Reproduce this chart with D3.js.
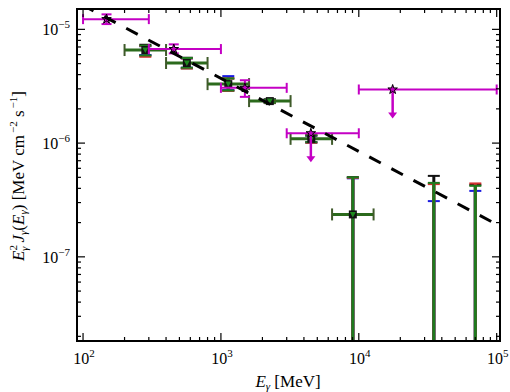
<!DOCTYPE html>
<html>
<head>
<meta charset="utf-8">
<script src="https://cdn.jsdelivr.net/npm/d3@7"></script>
<style>
  body { margin: 0; background: #fff; }
  text { font-family: "Liberation Serif", "DejaVu Serif", serif; }
</style>
</head>
<body>
<div id="chart"></div>
<script>
/* LAT points (magenta stars), energy bins and fluxes */
const latE   = [148, 455, 1492, 4490, 17600];
const latElo = [100, 300, 1000, 3000, 10000];
const latEhi = [300, 1000, 3000, 10000, 100000];
const latF   = [1.23e-5, 6.71e-6, 3.06e-6, 1.22e-6, 2.96e-6];
const latFhi = [1.355e-5, 7.38e-6, 3.57e-6, null, null];
const latFlo = [1.113e-5, 6.15e-6, 2.55e-6, null, null];
const latUL  = [false, false, false, true, true];

/* binned points (squares / triangles), shared energy bins */
const binE   = [283, 566, 1131, 2263, 4525, 9051, 35000, 70000];
const binElo = [200, 400, 800, 1600, 3200, 6400, 25600, 51200];
const binEhi = [400, 800, 1600, 3200, 6400, 12800, 51200, 102400];
const binF   = [6.58e-6, 5.06e-6, 3.30e-6, 2.34e-6, 1.09e-6, 2.36e-7, 1e-9, 1e-9];

/* upper / lower ends of the error bars for each overlapping series */
const blackHi = [7.32e-6, 5.63e-6, 3.70e-6, 2.43e-6, 1.17e-6, 5.02e-7, 5.15e-7, 4.30e-7];
const blackLo = [5.90e-6, 4.54e-6, 2.90e-6, 2.25e-6, 1.01e-6, 0, 0, 0];
const blueHi  = [7.10e-6, 5.55e-6, 3.88e-6, 2.44e-6, 1.16e-6, 4.90e-7, 3.09e-7, 3.80e-7];
const blueLo  = [5.95e-6, 4.60e-6, 2.92e-6, 2.25e-6, 1.02e-6, 0, 0, 0];
const redHi   = [7.15e-6, 5.55e-6, 3.70e-6, 2.42e-6, 1.17e-6, 4.95e-7, 4.36e-7, 4.42e-7];
const redLo   = [5.74e-6, 4.54e-6, 2.88e-6, 2.25e-6, 1.01e-6, 0, 0, 0];
const greenHi = [7.20e-6, 5.60e-6, 3.70e-6, 2.42e-6, 1.17e-6, 5.00e-7, 4.47e-7, 4.21e-7];
const greenLo = [5.90e-6, 4.60e-6, 2.90e-6, 2.26e-6, 1.02e-6, 0, 0, 0];

/* power-law model (dashed) */
const modelE = [90, 106000];
const modelF = [1.738e-5, 1.858e-7];

const xTicks = [1e2, 1e3, 1e4, 1e5];
const xTickExp = ["2", "3", "4", "5"];
const yTicks = [1e-5, 1e-6, 1e-7];
const yTickExp = ["\u22125", "\u22126", "\u22127"];

var W = 510, H = 392;
var pL = 77, pR = 500, pT = 9, pB = 341;

var svg = d3.select("#chart").append("svg")
    .attr("width", W).attr("height", H);

var x = d3.scaleLog().domain([90.4, 105700]).range([pL, pR]);
var y = d3.scaleLog().domain([1.82e-8, 1.51e-5]).range([pB, pT]);

svg.append("clipPath").attr("id", "clip")
    .append("rect").attr("x", pL).attr("y", pT)
    .attr("width", pR - pL).attr("height", pB - pT);

var plot = svg.append("g").attr("clip-path", "url(#clip)");

/* safe y for zero lower bounds */
function yv(v) { return v > 0 ? y(v) : pB + 20; }

/* horizontal bars for the binned series */
function hbars(color, capColor) {
    binE.forEach(function(e, i) {
        plot.append("line")
            .attr("x1", x(binElo[i])).attr("x2", x(binEhi[i]))
            .attr("y1", y(binF[i])).attr("y2", y(binF[i]))
            .attr("stroke", color).attr("stroke-width", 3);
        [binElo[i], binEhi[i]].forEach(function(b) {
            plot.append("line")
                .attr("x1", x(b)).attr("x2", x(b))
                .attr("y1", y(binF[i]) - 6).attr("y2", y(binF[i]) + 6)
                .attr("stroke", capColor).attr("stroke-width", 2);
        });
    });
}

function vbars(hi, lo, color, width) {
    binE.forEach(function(e, i) {
        var cx = x(e);
        plot.append("line")
            .attr("x1", cx).attr("x2", cx)
            .attr("y1", yv(hi[i])).attr("y2", yv(lo[i]))
            .attr("stroke", color).attr("stroke-width", width);
        [hi[i], lo[i]].forEach(function(v) {
            if (v > 0) {
                plot.append("line")
                    .attr("x1", cx - 6).attr("x2", cx + 6)
                    .attr("y1", y(v)).attr("y2", y(v))
                    .attr("stroke", color).attr("stroke-width", 2);
            }
        });
    });
}

hbars("#2b6a1c", "#3f5a2a");
vbars(blackHi, blackLo, "#111", 3);
vbars(blueHi, blueLo, "#1a1ae0", 3);
vbars(redHi, redLo, "#d03030", 3);
vbars(greenHi, greenLo, "#1e7a1e", 3);

/* markers: black squares with green down triangles */
binE.forEach(function(e, i) {
    var cx = x(e), cy = y(binF[i]);
    plot.append("rect")
        .attr("x", cx - 4).attr("y", cy - 4)
        .attr("width", 8).attr("height", 8)
        .attr("fill", "#111");
    plot.append("path")
        .attr("d", "M" + (cx - 3) + "," + (cy - 2.5) + "L" + (cx + 3) + "," + (cy - 2.5) + "L" + cx + "," + (cy + 3) + "Z")
        .attr("fill", "#1e8a1e");
});

/* LAT magenta points */
var mag = "#c400c4";
latE.forEach(function(e, i) {
    var cx = x(e), cy = y(latF[i]);
    plot.append("line")
        .attr("x1", x(latElo[i])).attr("x2", x(latEhi[i]))
        .attr("y1", cy).attr("y2", cy)
        .attr("stroke", mag).attr("stroke-width", 2);
    [latElo[i], latEhi[i]].forEach(function(b) {
        plot.append("line")
            .attr("x1", x(b)).attr("x2", x(b))
            .attr("y1", cy - 5).attr("y2", cy + 5)
            .attr("stroke", mag).attr("stroke-width", 2);
    });
    if (latUL[i]) {
        plot.append("line")
            .attr("x1", cx).attr("x2", cx)
            .attr("y1", cy).attr("y2", cy + 24)
            .attr("stroke", mag).attr("stroke-width", 2.5);
        plot.append("path")
            .attr("d", "M" + (cx - 4.5) + "," + (cy + 23) + "L" + (cx + 4.5) + "," + (cy + 23) + "L" + cx + "," + (cy + 29) + "Z")
            .attr("fill", mag);
    } else {
        plot.append("line")
            .attr("x1", cx).attr("x2", cx)
            .attr("y1", y(latFhi[i])).attr("y2", y(latFlo[i]))
            .attr("stroke", mag).attr("stroke-width", 2);
        [latFhi[i], latFlo[i]].forEach(function(v) {
            plot.append("line")
                .attr("x1", cx - 5).attr("x2", cx + 5)
                .attr("y1", y(v)).attr("y2", y(v))
                .attr("stroke", mag).attr("stroke-width", 2);
        });
    }
    plot.append("path")
        .attr("d", d3.symbol().type(d3.symbolStar).size(28)())
        .attr("transform", "translate(" + cx + "," + cy + ")")
        .attr("fill", mag).attr("stroke", "#000").attr("stroke-width", 1);
});

/* dashed model line */
plot.append("path")
    .datum(modelE.map(function(e, i) { return [e, modelF[i]]; }))
    .attr("d", d3.line().x(function(d) { return x(d[0]); }).y(function(d) { return y(d[1]); }))
    .attr("fill", "none").attr("stroke", "#000")
    .attr("stroke-width", 3).attr("stroke-dasharray", "13,12")
    .attr("stroke-dashoffset", 19);

/* ticks (inward, all four sides) */
var ax = svg.append("g");
function minors(lo, hi) {
    var out = [];
    for (var p = lo; p <= hi; p++) {
        for (var m = 2; m <= 9; m++) out.push(m * Math.pow(10, p));
    }
    return out;
}
var xMin = minors(1, 5).filter(function(v) { return v >= 90.4 && v <= 105700; });
var yMin = minors(-9, -5).filter(function(v) { return v >= 1.82e-8 && v <= 1.51e-5; });

xTicks.concat(xMin).forEach(function(v) {
    var len = xTicks.indexOf(v) >= 0 ? 8 : 4;
    var px = x(v);
    ax.append("line").attr("x1", px).attr("x2", px).attr("y1", pB).attr("y2", pB - len)
        .attr("stroke", "#000").attr("stroke-width", 1.2);
    ax.append("line").attr("x1", px).attr("x2", px).attr("y1", pT).attr("y2", pT + len)
        .attr("stroke", "#000").attr("stroke-width", 1.2);
});
yTicks.concat(yMin).forEach(function(v) {
    var len = yTicks.indexOf(v) >= 0 ? 8 : 4;
    var py = y(v);
    ax.append("line").attr("x1", pL).attr("x2", pL + len).attr("y1", py).attr("y2", py)
        .attr("stroke", "#000").attr("stroke-width", 1.2);
    ax.append("line").attr("x1", pR).attr("x2", pR - len).attr("y1", py).attr("y2", py)
        .attr("stroke", "#000").attr("stroke-width", 1.2);
});

ax.append("rect")
    .attr("x", pL).attr("y", pT)
    .attr("width", pR - pL).attr("height", pB - pT)
    .attr("fill", "none").attr("stroke", "#000").attr("stroke-width", 2);

/* tick labels */
xTicks.forEach(function(v, i) {
    var t = ax.append("text")
        .attr("x", x(v) + 1).attr("y", 364)
        .attr("text-anchor", "middle").style("font-size", "16px");
    t.append("tspan").text("10");
    t.append("tspan").attr("dy", -7).style("font-size", "11px").text(xTickExp[i]);
});
yTicks.forEach(function(v, i) {
    var t = ax.append("text")
        .attr("x", 70).attr("y", y(v) + 6)
        .attr("text-anchor", "end").style("font-size", "16px");
    t.append("tspan").text("10");
    t.append("tspan").attr("dy", -7).style("font-size", "11px").text(yTickExp[i]);
});

/* axis labels */
var xl = svg.append("text")
    .attr("x", 288).attr("y", 387)
    .attr("text-anchor", "middle").style("font-size", "17px");
xl.append("tspan").style("font-style", "italic").text("E");
xl.append("tspan").attr("dy", 3).style("font-size", "11px").style("font-style", "italic").text("\u03b3");
xl.append("tspan").attr("dy", -3).text(" [MeV]");

var yl = svg.append("text")
    .attr("transform", "translate(24,176) rotate(-90)")
    .attr("text-anchor", "middle").style("font-size", "17px");
yl.append("tspan").style("font-style", "italic").text("E");
yl.append("tspan").attr("dy", -7).style("font-size", "11px").text("2");
yl.append("tspan").attr("dx", -6).attr("dy", 11).style("font-size", "11px").style("font-style", "italic").text("\u03b3");
yl.append("tspan").attr("dy", -4).style("font-style", "italic").text(" J");
yl.append("tspan").attr("dy", 3).style("font-size", "11px").style("font-style", "italic").text("\u03b3");
yl.append("tspan").attr("dy", -3).text("(");
yl.append("tspan").style("font-style", "italic").text("E");
yl.append("tspan").attr("dy", 3).style("font-size", "11px").style("font-style", "italic").text("\u03b3");
yl.append("tspan").attr("dy", -3).text(") [MeV cm");
yl.append("tspan").attr("dx", 2).attr("dy", -7).style("font-size", "11px").text("\u22122");
yl.append("tspan").attr("dy", 7).text(" s");
yl.append("tspan").attr("dx", 2).attr("dy", -7).style("font-size", "11px").text("\u22121");
yl.append("tspan").attr("dy", 7).text("]");
</script>
</body>
</html>
